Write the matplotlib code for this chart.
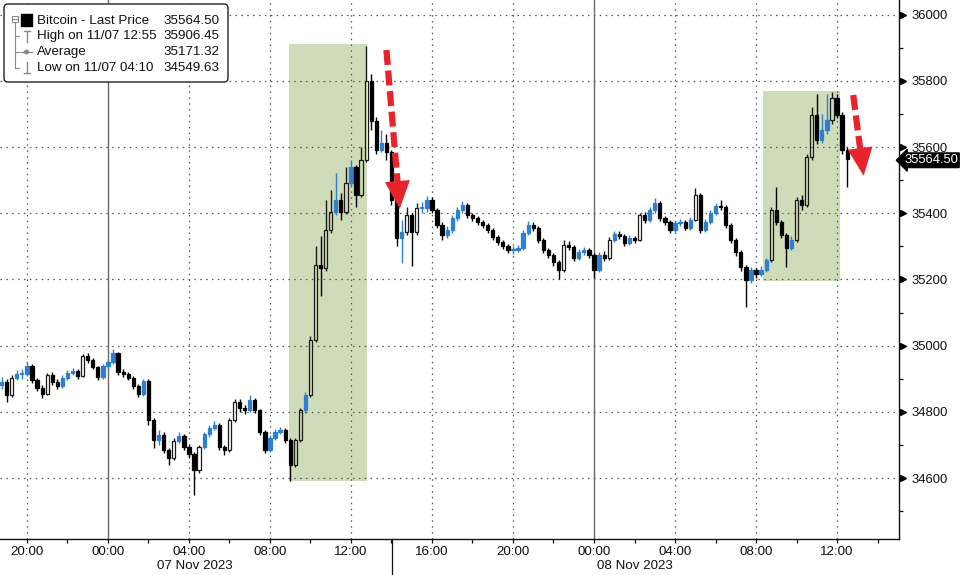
import numpy as np
import matplotlib
matplotlib.use("Agg")
import matplotlib.pyplot as plt
import matplotlib.transforms as mtransforms
from matplotlib.patches import Rectangle, FancyBboxPatch, Circle
from matplotlib.lines import Line2D

plt.rcParams["font.family"] = ["Liberation Sans", "DejaVu Sans"]

# 15-minute candles, hours relative to 07 Nov 2023 00:00, first candle at 18:45 on 06 Nov
first_open = 34880
closes = [
    34890, 34850, 34902, 34914, 34914, 34938, 34896, 34872, 34854, 34911,
    34890, 34878, 34902, 34917, 34923, 34908, 34968, 34956, 34935, 34905,
    34938, 34950, 34977, 34920, 34914, 34902, 34878, 34854, 34893, 34775,
    34715, 34730, 34685, 34660, 34712, 34727, 34694, 34672, 34624, 34694,
    34733, 34751, 34760, 34694, 34685, 34775, 34830, 34811, 34805, 34836,
    34805, 34739, 34685, 34721, 34739, 34745, 34715, 34639, 34715, 34805,
    34850, 35017, 35243, 35234, 35349, 35403, 35440, 35403, 35491, 35539,
    35455, 35560, 35800, 35680, 35591, 35612, 35585, 35440, 35325, 35343,
    35394, 35343, 35415, 35415, 35440, 35409, 35364, 35334, 35349, 35385,
    35409, 35424, 35394, 35385, 35373, 35364, 35349, 35328, 35313, 35301,
    35289, 35289, 35295, 35340, 35364, 35355, 35319, 35289, 35273, 35252,
    35228, 35304, 35298, 35264, 35283, 35289, 35273, 35228, 35273, 35264,
    35319, 35337, 35331, 35310, 35325, 35319, 35394, 35379, 35409, 35430,
    35385, 35373, 35349, 35370, 35373, 35355, 35379, 35455, 35349, 35373,
    35400, 35421, 35418, 35364, 35319, 35283, 35237, 35198, 35228, 35216,
    35228, 35258, 35409, 35373, 35334, 35295, 35319, 35440, 35424, 35569,
    35696, 35621, 35651, 35681, 35748, 35696, 35591, 35564.5,
]
highs = [
    34905, 34898, 34910, 34925, 34928, 34950, 34945, 34902, 34880, 34918,
    34920, 34898, 34910, 34925, 34932, 34930, 34975, 34978, 34962, 34940,
    34945, 34958, 34990, 34982, 34928, 34920, 34908, 34885, 34900, 34898,
    34780, 34745, 34738, 34692, 34720, 34740, 34732, 34700, 34680, 34700,
    34740, 34760, 34772, 34765, 34700, 34782, 34840, 34838, 34820, 34850,
    34842, 34810, 34745, 34730, 34748, 34755, 34752, 34720, 34722, 34812,
    34860, 35030, 35300, 35330, 35440, 35470, 35520, 35460, 35540, 35560,
    35545, 35600, 35906.45, 35820, 35690, 35650, 35640, 35592, 35450, 35380,
    35420, 35400, 35430, 35435, 35452, 35448, 35415, 35372, 35360, 35395,
    35420, 35436, 35430, 35402, 35392, 35380, 35370, 35355, 35335, 35320,
    35308, 35300, 35305, 35348, 35375, 35372, 35360, 35325, 35295, 35280,
    35258, 35320, 35315, 35305, 35292, 35298, 35295, 35280, 35282, 35285,
    35328, 35345, 35345, 35338, 35335, 35332, 35402, 35405, 35418, 35445,
    35436, 35392, 35380, 35378, 35382, 35380, 35388, 35475, 35460, 35382,
    35410, 35432, 35440, 35425, 35370, 35325, 35290, 35245, 35238, 35235,
    35240, 35265, 35420, 35480, 35380, 35340, 35330, 35450, 35455, 35580,
    35720, 35760, 35700, 35760, 35765, 35760, 35705, 35600,
]
lows = [
    34870, 34830, 34845, 34895, 34900, 34908, 34888, 34862, 34842, 34850,
    34882, 34868, 34872, 34896, 34910, 34900, 34905, 34948, 34928, 34896,
    34900, 34930, 34945, 34912, 34905, 34895, 34870, 34845, 34848, 34760,
    34690, 34700, 34675, 34640, 34655, 34705, 34685, 34660, 34549.63, 34615,
    34688, 34725, 34745, 34685, 34670, 34680, 34770, 34800, 34795, 34800,
    34798, 34730, 34675, 34680, 34715, 34732, 34705, 34590, 34632, 34710,
    34798, 34845, 35010, 35150, 35225, 35340, 35395, 35380, 35398, 35480,
    35420, 35450, 35555, 35650, 35580, 35585, 35560, 35425, 35300, 35250,
    35335, 35240, 35335, 35400, 35405, 35400, 35355, 35320, 35325, 35340,
    35378, 35402, 35385, 35375, 35365, 35355, 35340, 35318, 35305, 35292,
    35280, 35278, 35282, 35290, 35335, 35345, 35310, 35280, 35265, 35240,
    35200, 35222, 35290, 35255, 35258, 35275, 35265, 35205, 35222, 35255,
    35258, 35312, 35322, 35302, 35304, 35310, 35315, 35370, 35372, 35402,
    35378, 35365, 35340, 35342, 35362, 35348, 35350, 35375, 35340, 35342,
    35368, 35395, 35410, 35355, 35310, 35272, 35225, 35116, 35190, 35205,
    35210, 35222, 35252, 35365, 35325, 35237, 35288, 35312, 35410, 35418,
    35560, 35610, 35612, 35640, 35670, 35688, 35580, 35480,
]

time_labels = ["20:00", "00:00", "04:00", "08:00", "12:00",
               "16:00", "20:00", "00:00", "04:00", "08:00", "12:00"]
label_hours = [-4, 0, 4, 8, 12, 16, 20, 24, 28, 32, 36]
day_labels = ["07 Nov 2023", "08 Nov 2023"]
day_label_hours = [4.3, 26.0]

legend_rows = [("Bitcoin - Last Price", "35564.50"),
               ("High on 11/07 12:55", "35906.45"),
               ("Average", "35171.32"),
               ("Low on 11/07 04:10", "34549.63")]
last_price = 35564.5

# highlighted rally windows: (start hour, end hour, low, high)
boxes = [(8.95, 12.8, 34590, 35910), (32.35, 36.15, 35195, 35770)]
# red dashed arrows: (start hour, start price, tip hour, tip price)
arrows = [(13.75, 35893, 14.42, 35405), (36.8, 35757, 37.33, 35505)]

W, H = 963, 575
fig = plt.figure(figsize=(W / 100, H / 100), dpi=100)
ax = fig.add_axes([0, 36 / H, 899 / W, 1 - 36 / H])

# pixel transform for figure decorations (y measured from the top)
pxT = mtransforms.Affine2D().scale(1, -1).translate(0, H).scale(1 / 100) + fig.dpi_scale_trans

# grid
for y in range(34600, 36001, 200):
    ax.axhline(y, color="#555555", lw=0.9, ls=(0, (1.2, 3.5)), zorder=1.5)
for h in label_hours:
    if h in (0, 24):
        ax.axvline(h, color="#666666", lw=1.0, zorder=1.5)
    else:
        ax.axvline(h, color="#555555", lw=0.9, ls=(0, (1.2, 3.5)), zorder=1.5)

for x0, x1, y0, y1 in boxes:
    ax.add_patch(Rectangle((x0, y0), x1 - x0, y1 - y0, fc="#cfdcb9", ec="none", zorder=1))

# candles
times = -5.25 + 0.25 * np.arange(len(closes))
opens = [first_open] + closes[:-1]
blue = "#2f7fd1"
for t, o, c, hi, lo in zip(times, opens, closes, highs, lows):
    top, bot = max(o, c), min(o, c)
    if c < o:
        fc, ec = "black", "black"
    elif c - o >= 50:
        fc, ec = "none", "#1a1a1a"
    else:
        fc, ec = blue, blue
    ax.vlines(t, top, hi, colors=ec, lw=1.0, zorder=3)
    ax.vlines(t, lo, bot, colors=ec, lw=1.0, zorder=3)
    ax.add_patch(Rectangle((t - 0.08, bot), 0.16, max(top - bot, 4),
                           fc=fc, ec=ec, lw=0.9, zorder=4))

# arrows
for xs, ys, xt, yt in arrows:
    bx, by = xs + (xt - xs) * 0.88, ys + (yt - ys) * 0.88
    ax.plot([xs, bx], [ys, by], color="#e8232b", lw=4.5, dashes=(2.4, 0.9),
            solid_capstyle="butt", zorder=6)
    ax.annotate("", xy=(xt, yt), xytext=(xs + (xt - xs) * 0.86, ys + (yt - ys) * 0.86),
                arrowprops=dict(arrowstyle="-|>,head_width=0.45,head_length=1.0",
                                color="#e8232b", lw=0, mutation_scale=20), zorder=6)

# axes styling
for s in ("left", "top"):
    ax.spines[s].set_visible(False)
for s in ("right", "bottom"):
    ax.spines[s].set_color("#111111")
    ax.spines[s].set_linewidth(1.0)

ax.yaxis.tick_right()
ax.set_yticks(range(34600, 36001, 200))
ax.set_yticks(range(34500, 36001, 100), minor=True)
ax.tick_params(axis="y", which="both", direction="out", length=3, width=0.9,
               labelsize=9.4, pad=6, colors="#111111")
ytr = ax.get_yaxis_transform() + mtransforms.ScaledTranslation(4 / 100, 0, fig.dpi_scale_trans)
ax.plot([1.0] * 8, list(range(34600, 36001, 200)), ls="none", marker=">", ms=4.5,
        color="black", transform=ytr, clip_on=False, zorder=7)

ax.set_xticks(label_hours)
ax.set_xticklabels(time_labels)
ax.set_xticks(np.arange(-4, 39, 2), minor=True)
ax.tick_params(axis="x", which="both", direction="out", length=3, width=0.9,
               labelsize=9.6, pad=2, colors="#111111")
ax.set_xlim(-5.33, 39.06)
ax.set_ylim(34416, 36044)

# last price tag, nudged a hair down so it clears the 35600 label
tagtr = (ax.get_yaxis_transform()
         + mtransforms.ScaledTranslation(5 / 100, -1.5 / 100, fig.dpi_scale_trans))
ax.text(1.0, last_price, f"{last_price:.2f}", transform=tagtr, ha="left", va="center",
        color="white", fontsize=9.4, clip_on=False, zorder=8,
        bbox=dict(boxstyle="larrow,pad=0.1", fc="black", ec="black"))

# date labels and separator
for h, lab in zip(day_label_hours, day_labels):
    xd = ax.transData.transform((h, 0))[0]
    fig.text(xd / W, 1 - 566 / H, lab, ha="center", va="center", fontsize=9.6,
             color="#111111")
fig.add_artist(Line2D([392, 392], [539, 575], color="#111111", lw=0.9, transform=pxT))

# legend box
fig.add_artist(FancyBboxPatch((4, 4), 224, 78, boxstyle="round,pad=0,rounding_size=4",
                              fc="white", ec="#222222", lw=1.0, transform=pxT, zorder=9))
row_y = [21, 36, 52, 68]
for (lab, val), y in zip(legend_rows, row_y):
    fig.text(37, y, lab, transform=pxT, ha="left", va="center", fontsize=9.6,
             color="#111111", zorder=10)
    fig.text(219, y, val, transform=pxT, ha="right", va="center", fontsize=9.6,
             color="#111111", zorder=10)
grey = "#8a8a8a"
icons = [
    Rectangle((11.5, 15.5), 6, 6, fc="white", ec=grey, lw=0.8),
    Line2D([13, 16.5], [18.5, 18.5], color=grey, lw=0.8),
    Rectangle((21, 14), 11, 12, fc="black", ec="black"),
    Line2D([14.5, 14.5], [22, 68], color=grey, lw=0.8),
    Line2D([14.5, 19], [36, 36], color=grey, lw=0.8),
    Line2D([14.5, 19], [52, 52], color=grey, lw=0.8),
    Line2D([14.5, 19], [68, 68], color=grey, lw=0.8),
    Line2D([23.5, 29.5], [31, 31], color=grey, lw=1.0),
    Line2D([26.5, 26.5], [31, 42], color=grey, lw=1.0),
    Line2D([21, 32], [52, 52], color=grey, lw=1.0),
    Circle((26.5, 52), 1.8, fc=grey, ec=grey),
    Line2D([26.5, 26.5], [62, 73], color=grey, lw=1.0),
    Line2D([23.5, 29.5], [73, 73], color=grey, lw=1.0),
]
for a in icons:
    a.set_transform(pxT)
    a.set_zorder(10)
    fig.add_artist(a)

fig.savefig("out.png", dpi=100)
